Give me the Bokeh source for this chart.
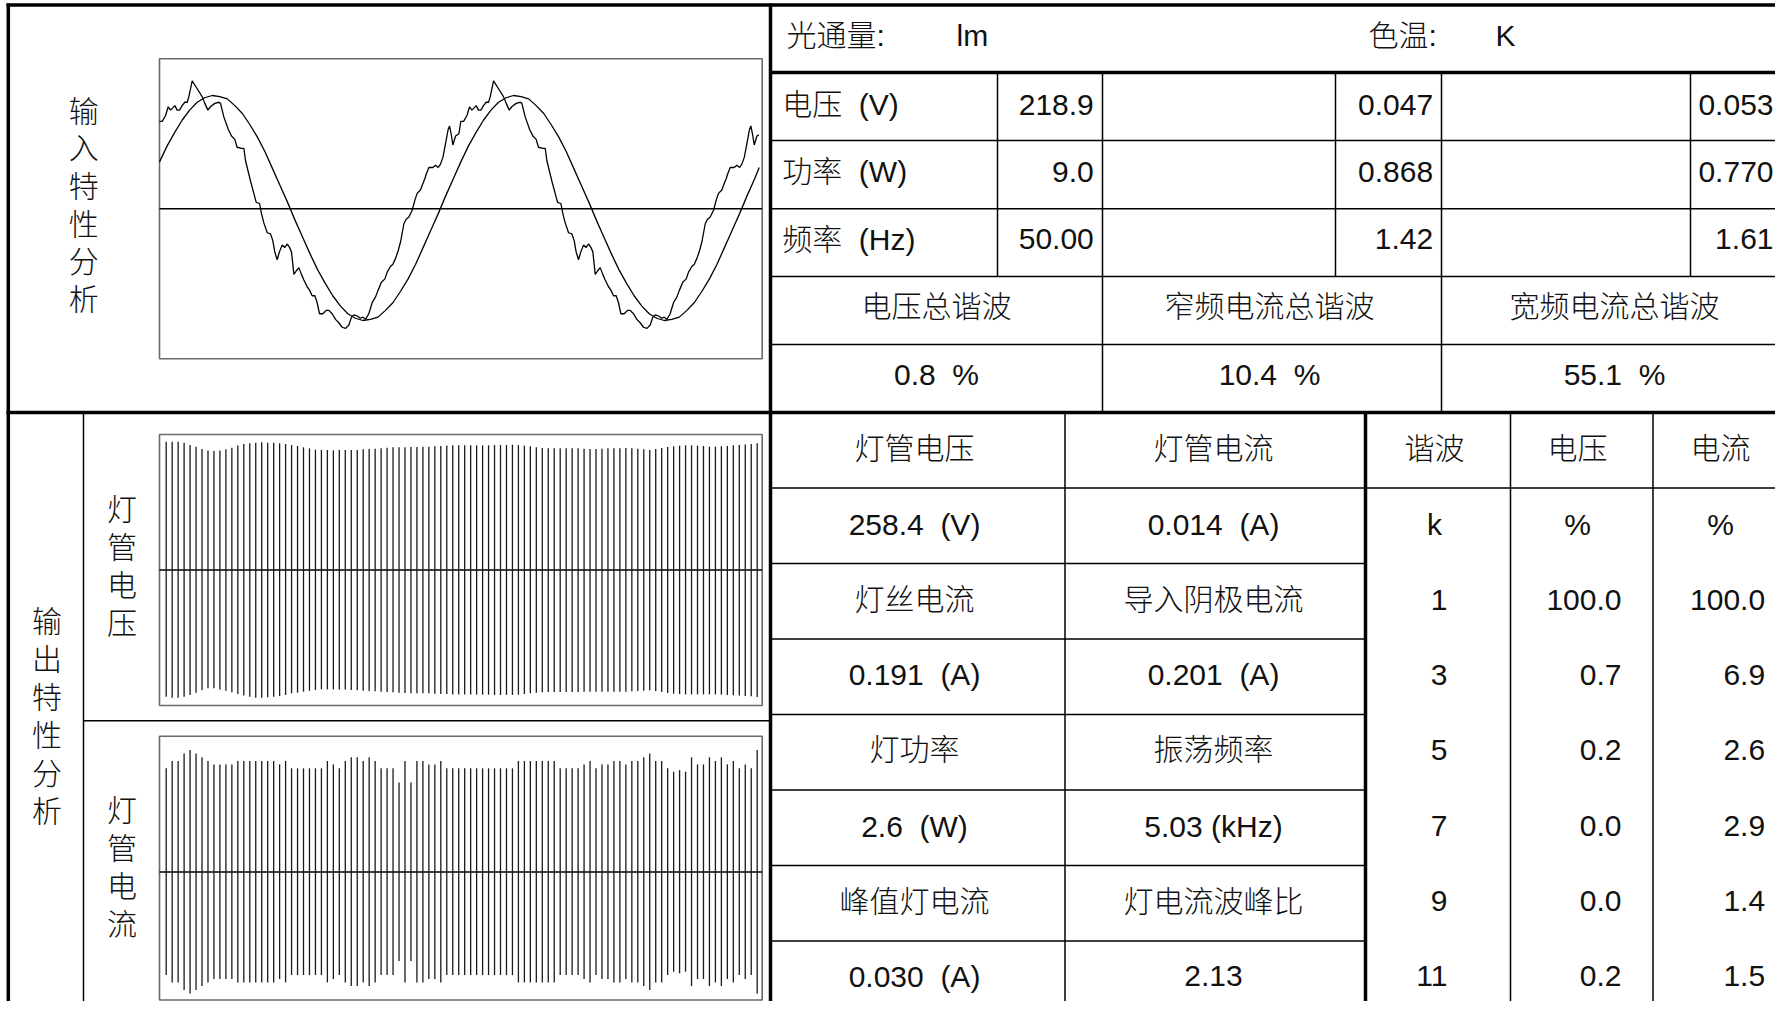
from bokeh.plotting import figure
from bokeh.models import Range1d
from bokeh.core.properties import value
from bokeh.embed import file_html
from bokeh.resources import INLINE

# ---------------- data ----------------
# input characteristic: mains voltage (normalised to its peak) over 40 ms
vin_ms = [0.0, 0.5, 1.0, 1.5, 2.0, 2.5, 3.0, 3.5, 4.0, 4.5, 5.0, 5.5, 6.0, 6.5, 7.0, 7.5, 8.0, 8.5, 9.0, 9.5,
          10.0, 10.5, 11.0, 11.5, 12.0, 12.5, 13.0, 13.5, 14.0, 14.5, 15.0, 15.5, 16.0, 16.5, 17.0, 17.5, 18.0, 18.5, 19.0, 19.5,
          20.0, 20.5, 21.0, 21.5, 22.0, 22.5, 23.0, 23.5, 24.0, 24.5, 25.0, 25.5, 26.0, 26.5, 27.0, 27.5, 28.0, 28.5, 29.0, 29.5,
          30.0, 30.5, 31.0, 31.5, 32.0, 32.5, 33.0, 33.5, 34.0, 34.5, 35.0, 35.5, 36.0, 36.5, 37.0, 37.5, 38.0, 38.5, 39.0, 39.5, 39.8]
vin_val = [0.41, 0.55, 0.67, 0.78, 0.87, 0.94, 0.98, 1.00, 0.99, 0.97, 0.91, 0.84, 0.74, 0.63, 0.50, 0.35, 0.20, 0.05, -0.11, -0.26,
           -0.41, -0.55, -0.67, -0.78, -0.87, -0.94, -0.98, -1.00, -0.99, -0.97, -0.91, -0.84, -0.74, -0.63, -0.50, -0.35, -0.20, -0.05, 0.11, 0.26,
           0.41, 0.55, 0.67, 0.78, 0.87, 0.94, 0.98, 1.00, 0.99, 0.97, 0.91, 0.84, 0.74, 0.63, 0.50, 0.35, 0.20, 0.05, -0.11, -0.26,
           -0.41, -0.55, -0.67, -0.78, -0.87, -0.94, -0.98, -1.00, -0.99, -0.97, -0.91, -0.84, -0.74, -0.63, -0.50, -0.35, -0.20, -0.05, 0.11, 0.26, 0.36]

# input current (same scale) over the same 40 ms
iin_ms = [0.00, 0.18, 0.40, 0.58, 0.73, 0.88, 1.02, 1.17, 1.33, 1.50, 1.68, 1.84, 1.95, 2.17, 2.50, 2.83, 3.01, 3.21, 3.38, 3.67,
          3.94, 4.05, 4.27, 4.56, 4.78, 5.00, 5.15, 5.44, 5.60, 5.71, 6.04, 6.26, 6.42, 6.64, 6.77, 6.92, 7.15, 7.37, 7.52, 7.65,
          7.81, 7.96, 8.14, 8.32, 8.47, 8.63, 8.76, 8.92, 9.07, 9.25, 9.42, 9.58, 9.80, 9.96, 10.13, 10.31, 10.46, 10.62, 10.84, 11.06,
          11.24, 11.46, 11.68, 11.90, 12.12, 12.35, 12.57, 12.74, 12.90, 13.12, 13.34, 13.50, 13.67, 13.89, 14.12, 14.34, 14.51, 14.73, 14.96, 15.11,
          15.33, 15.49, 15.66, 15.84, 16.00, 16.22, 16.37, 16.55, 16.77, 16.95, 17.10, 17.32, 17.43, 17.61, 17.70, 17.88, 18.14, 18.32, 18.50, 18.65,
          18.81, 18.98, 19.16, 19.25, 19.38, 19.47, 19.65, 19.87,
          20.00, 20.18, 20.40, 20.58, 20.73, 20.88, 21.02, 21.17, 21.33, 21.50, 21.68, 21.84, 21.95, 22.17, 22.50, 22.83, 23.01, 23.21, 23.38, 23.67,
          23.94, 24.05, 24.27, 24.56, 24.78, 25.00, 25.15, 25.44, 25.60, 25.71, 26.04, 26.26, 26.42, 26.64, 26.77, 26.92, 27.15, 27.37, 27.52, 27.65,
          27.81, 27.96, 28.14, 28.32, 28.47, 28.63, 28.76, 28.92, 29.07, 29.25, 29.42, 29.58, 29.80, 29.96, 30.13, 30.31, 30.46, 30.62, 30.84, 31.06,
          31.24, 31.46, 31.68, 31.90, 32.12, 32.35, 32.57, 32.74, 32.90, 33.12, 33.34, 33.50, 33.67, 33.89, 34.12, 34.34, 34.51, 34.73, 34.96, 35.11,
          35.33, 35.49, 35.66, 35.84, 36.00, 36.22, 36.37, 36.55, 36.77, 36.95, 37.10, 37.32, 37.43, 37.61, 37.70, 37.88, 38.14, 38.32, 38.50, 38.65,
          38.81, 38.98, 39.16, 39.25, 39.38, 39.47, 39.65, 39.78]
iin_val = [0.77, 0.77, 0.82, 0.90, 0.87, 0.89, 0.91, 0.87, 0.87, 0.91, 0.94, 0.94, 0.99, 1.13, 1.06, 0.99, 0.93, 0.87, 0.90, 0.93,
           0.94, 0.93, 0.81, 0.70, 0.64, 0.61, 0.54, 0.53, 0.53, 0.42, 0.24, 0.13, 0.05, 0.04, -0.05, -0.13, -0.22, -0.23, -0.29, -0.39,
           -0.46, -0.39, -0.33, -0.35, -0.32, -0.35, -0.39, -0.59, -0.56, -0.53, -0.59, -0.64, -0.70, -0.73, -0.78, -0.78, -0.84, -0.94, -0.94, -0.91,
           -0.91, -0.94, -0.99, -1.02, -1.06, -1.07, -1.04, -0.97, -0.95, -0.96, -0.98, -0.97, -0.99, -0.94, -0.84, -0.79, -0.73, -0.66, -0.63, -0.57,
           -0.52, -0.50, -0.45, -0.38, -0.30, -0.14, -0.10, -0.08, -0.02, 0.07, 0.13, 0.16, 0.20, 0.26, 0.30, 0.36, 0.36, 0.38, 0.36, 0.39,
           0.45, 0.57, 0.70, 0.73, 0.64, 0.56, 0.64, 0.66,
           0.77, 0.77, 0.82, 0.90, 0.87, 0.89, 0.91, 0.87, 0.87, 0.91, 0.94, 0.94, 0.99, 1.13, 1.06, 0.99, 0.93, 0.87, 0.90, 0.93,
           0.94, 0.93, 0.81, 0.70, 0.64, 0.61, 0.54, 0.53, 0.53, 0.42, 0.24, 0.13, 0.05, 0.04, -0.05, -0.13, -0.22, -0.23, -0.29, -0.39,
           -0.46, -0.39, -0.33, -0.35, -0.32, -0.35, -0.39, -0.59, -0.56, -0.53, -0.59, -0.64, -0.70, -0.73, -0.78, -0.78, -0.84, -0.94, -0.94, -0.91,
           -0.91, -0.94, -0.99, -1.02, -1.06, -1.07, -1.04, -0.97, -0.95, -0.96, -0.98, -0.97, -0.99, -0.94, -0.84, -0.79, -0.73, -0.66, -0.63, -0.57,
           -0.52, -0.50, -0.45, -0.38, -0.30, -0.14, -0.10, -0.08, -0.02, 0.07, 0.13, 0.16, 0.20, 0.26, 0.30, 0.36, 0.36, 0.38, 0.36, 0.39,
           0.45, 0.57, 0.70, 0.73, 0.64, 0.56, 0.64, 0.65]

# output characteristic: 100 oscillation cycles, positive / negative peaks (panel half-height = 1)
osc_cycle = list(range(100))
lamp_v_top = [0.947, 0.947, 0.947, 0.940, 0.922, 0.910, 0.893, 0.881, 0.878, 0.881,
              0.891, 0.903, 0.918, 0.930, 0.935, 0.940, 0.942, 0.940, 0.940, 0.935,
              0.930, 0.922, 0.915, 0.905, 0.898, 0.888, 0.886, 0.886, 0.883, 0.886,
              0.886, 0.886, 0.886, 0.891, 0.893, 0.895, 0.898, 0.903, 0.905, 0.905,
              0.905, 0.908, 0.908, 0.910, 0.910, 0.913, 0.915, 0.918, 0.920, 0.920,
              0.920, 0.920, 0.920, 0.920, 0.920, 0.922, 0.922, 0.922, 0.925, 0.922,
              0.918, 0.913, 0.905, 0.900, 0.898, 0.898, 0.898, 0.898, 0.898, 0.898,
              0.895, 0.893, 0.893, 0.895, 0.898, 0.898, 0.898, 0.900, 0.898, 0.895,
              0.891, 0.886, 0.893, 0.900, 0.908, 0.913, 0.918, 0.920, 0.920, 0.918,
              0.915, 0.910, 0.910, 0.913, 0.915, 0.920, 0.922, 0.927, 0.930, 0.935]
lamp_v_bot = [-0.935, -0.942, -0.942, -0.935, -0.922, -0.905, -0.886, -0.873, -0.873, -0.881,
              -0.891, -0.903, -0.915, -0.927, -0.935, -0.942, -0.942, -0.940, -0.935, -0.930,
              -0.922, -0.910, -0.905, -0.898, -0.891, -0.886, -0.881, -0.881, -0.881, -0.881,
              -0.881, -0.886, -0.888, -0.891, -0.893, -0.895, -0.898, -0.900, -0.903, -0.905,
              -0.908, -0.910, -0.910, -0.910, -0.910, -0.913, -0.915, -0.915, -0.918, -0.918,
              -0.918, -0.918, -0.920, -0.920, -0.920, -0.922, -0.922, -0.922, -0.922, -0.920,
              -0.915, -0.910, -0.905, -0.903, -0.900, -0.900, -0.900, -0.900, -0.900, -0.900,
              -0.898, -0.898, -0.898, -0.898, -0.898, -0.898, -0.898, -0.898, -0.895, -0.893,
              -0.891, -0.888, -0.893, -0.900, -0.908, -0.913, -0.915, -0.918, -0.918, -0.918,
              -0.918, -0.918, -0.918, -0.920, -0.922, -0.925, -0.927, -0.930, -0.932, -0.937]
lamp_i_peak = [0.763, 0.817, 0.817, 0.873, 0.898, 0.873, 0.844, 0.817, 0.792, 0.792,
               0.792, 0.792, 0.817, 0.817, 0.817, 0.817, 0.817, 0.817, 0.817, 0.792,
               0.817, 0.763, 0.763, 0.763, 0.763, 0.763, 0.763, 0.817, 0.792, 0.763,
               0.817, 0.844, 0.844, 0.817, 0.844, 0.817, 0.763, 0.763, 0.763, 0.659,
               0.817, 0.659, 0.817, 0.817, 0.792, 0.792, 0.817, 0.763, 0.763, 0.763,
               0.763, 0.763, 0.763, 0.763, 0.763, 0.763, 0.763, 0.763, 0.763, 0.817,
               0.817, 0.817, 0.817, 0.817, 0.817, 0.817, 0.763, 0.763, 0.763, 0.763,
               0.792, 0.817, 0.763, 0.792, 0.792, 0.817, 0.817, 0.792, 0.817, 0.817,
               0.844, 0.873, 0.817, 0.817, 0.763, 0.738, 0.750, 0.738, 0.844, 0.792,
               0.792, 0.844, 0.817, 0.844, 0.792, 0.817, 0.763, 0.792, 0.763, 0.898]

# table texts
input_title = "输入特性分析"
output_title = "输出特性分析"
lamp_v_title = "灯管电压"
lamp_i_title = "灯管电流"
top_row = ["光通量:", "lm", "色温:", "K"]
param_labels = ["电压\u00a0\u00a0(V)", "功率\u00a0\u00a0(W)", "频率\u00a0\u00a0(Hz)"]
param_vals_a = ["218.9", "9.0", "50.00"]
param_vals_b = ["0.047", "0.868", "1.42"]
param_vals_c = ["0.053", "0.770", "1.61"]
thd_labels = ["电压总谐波", "窄频电流总谐波", "宽频电流总谐波"]
thd_vals = ["0.8\u00a0\u00a0%", "10.4\u00a0\u00a0%", "55.1\u00a0\u00a0%"]
out_col_a = ["灯管电压", "258.4\u00a0\u00a0(V)", "灯丝电流", "0.191\u00a0\u00a0(A)",
             "灯功率", "2.6\u00a0\u00a0(W)", "峰值灯电流", "0.030\u00a0\u00a0(A)"]
out_col_b = ["灯管电流", "0.014\u00a0\u00a0(A)", "导入阴极电流", "0.201\u00a0\u00a0(A)",
             "振荡频率", "5.03\u00a0(kHz)", "灯电流波峰比", "2.13"]
harm_head = ["谐波", "电压", "电流"]
harm_unit = ["k", "%", "%"]
harm_order = ["1", "3", "5", "7", "9", "11"]
harm_v = ["100.0", "0.7", "0.2", "0.0", "0.0", "0.2"]
harm_i = ["100.0", "6.9", "2.6", "2.9", "1.4", "1.5"]

# ---------------- figure (pixel coordinates, y downwards) ----------------
W, H = 1775, 1001
FX0, FX1 = 0, W
FY0, FY1 = H, 0

p = figure(width=W, height=H, output_backend="svg", toolbar_location=None,
           x_range=Range1d(FX0, FX1), y_range=Range1d(FY0, FY1),
           min_border=0, min_border_left=0, min_border_right=0,
           min_border_top=0, min_border_bottom=0)
p.axis.visible = False
p.grid.visible = False
p.outline_line_color = None
p.background_fill_color = "white"
p.border_fill_color = "white"


def calib(p0, d0, p1, d1, f0, f1):
    k = (d1 - d0) / (p1 - p0)
    return Range1d(start=d0 + (f0 - p0) * k, end=d0 + (f1 - p0) * k)


p.extra_x_ranges = {
    "in_x": calib(159.0, 0.0, 761.7, 40.0, FX0, FX1),
    "osc_x": calib(165.7, 0.0, 756.7, 99.0, FX0, FX1),
}
p.extra_y_ranges = {
    "in_y": calib(95.0, 1.0, 320.0, -1.0, FY0, FY1),
    "lv_y": calib(434.0, 1.0, 705.0, -1.0, FY0, FY1),
    "li_y": calib(735.7, 1.0, 1006.7, -1.0, FY0, FY1),
}

# ---- table grid ----
thick = dict(x0=[6, 7.8, 770, 6, 770, 1365],
             y0=[4.5, 3, 3, 412, 72, 412],
             x1=[FX1, 7.8, 770, FX1, FX1, 1365],
             y1=[4.5, FY0, FY0, 412, 72, FY0])
p.segment(line_color="black", line_width=3.5, **thick)

tx0, ty0, tx1, ty1 = [], [], [], []
for yy in [140, 208.3, 276, 344, 487.5]:
    tx0 += [770]; tx1 += [FX1]; ty0 += [yy]; ty1 += [yy]
for yy in [563, 638.5, 714, 789.5, 865, 940.5]:
    tx0 += [770]; tx1 += [1365]; ty0 += [yy]; ty1 += [yy]
for xx in [997, 1335, 1690]:
    tx0 += [xx]; tx1 += [xx]; ty0 += [72]; ty1 += [276]
for xx in [1102, 1441]:
    tx0 += [xx]; tx1 += [xx]; ty0 += [72]; ty1 += [412]
for xx in [1064.5, 1510, 1652.5, 83]:
    tx0 += [xx]; tx1 += [xx]; ty0 += [412]; ty1 += [FY0]
tx0 += [83]; tx1 += [770]; ty0 += [720.3]; ty1 += [720.3]
p.segment(x0=tx0, y0=ty0, x1=tx1, y1=ty1, line_color="black", line_width=1.5)

# ---- waveform panels ----
p.quad(left=[159, 159, 159], right=[761.7, 761.7, 761.7],
       top=[58.3, 434, 735.7], bottom=[358.3, 705, 999.5],
       fill_color=None, line_color="#6a6a6a", line_width=1.6)
p.segment(x0=[159, 159, 159], x1=[761.7, 761.7, 761.7],
          y0=[208.3, 569.5, 871.5], y1=[208.3, 569.5, 871.5],
          line_color="black", line_width=1.6)

p.line(vin_ms, vin_val, x_range_name="in_x", y_range_name="in_y",
       line_color="black", line_width=1.3)
p.line(iin_ms, iin_val, x_range_name="in_x", y_range_name="in_y",
       line_color="black", line_width=1.3)

p.segment(x0=osc_cycle, x1=osc_cycle, y0=lamp_v_bot, y1=lamp_v_top,
          x_range_name="osc_x", y_range_name="lv_y", line_color="#1a1a1a", line_width=1.3)
p.segment(x0=osc_cycle, x1=osc_cycle, y0=[-a for a in lamp_i_peak], y1=lamp_i_peak,
          x_range_name="osc_x", y_range_name="li_y", line_color="#1a1a1a", line_width=1.3)

# ---- texts ----
FONT = value("'Liberation Sans', 'Noto Sans CJK SC Light', 'Noto Sans CJK SC'")
DY = -1.5


def put(xs, ys, texts, align):
    p.text(x=xs, y=[y + DY for y in ys], text=texts, text_align=align, text_baseline="middle",
           text_font=FONT, text_font_size="30px", text_color="#111111")


def vertical(label, x, y0, step):
    chars = list(label)
    put([x] * len(chars), [y0 + i * step for i in range(len(chars))], chars, "center")


vertical(input_title, 83.2, 112.3, 37.6)
vertical(output_title, 46.5, 622.0, 38.0)
vertical(lamp_v_title, 121.4, 510.0, 38.0)
vertical(lamp_i_title, 121.4, 811.0, 38.0)

put([786, 956, 1368, 1495], [36.7] * 4, top_row, "left")
row_y = [105.5, 172.5, 240.0]
put([781.7] * 3, row_y, param_labels, "left")
put([1093.3] * 3, row_y, param_vals_a, "right")
put([1432.6] * 3, row_y, param_vals_b, "right")
put([1773] * 3, row_y, param_vals_c, "right")
put([936, 1269, 1614], [307.0] * 3, thd_labels, "center")
put([936, 1269, 1614], [375.5] * 3, thd_vals, "center")

low_y = [449.5, 525.5, 600.8, 675.8, 750.8, 827.0, 902.0, 977.0]
put([914] * 8, low_y, out_col_a, "center")
put([1213] * 8, low_y, out_col_b, "center")
put([1434, 1577, 1720], [449.5] * 3, harm_head, "center")
put([1434, 1577, 1720], [525.5] * 3, harm_unit, "center")
put([1447] * 6, low_y[2:], harm_order, "right")
put([1621] * 6, low_y[2:], harm_v, "right")
put([1764.6] * 6, low_y[2:], harm_i, "right")

open("out.html", "w").write(file_html(p, INLINE))
